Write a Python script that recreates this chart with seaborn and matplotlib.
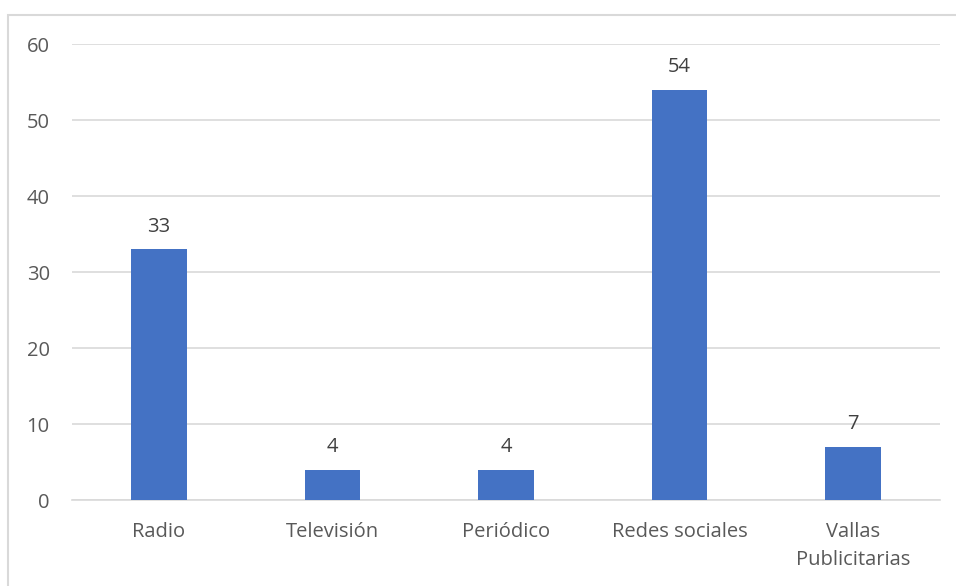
import matplotlib.pyplot as plt
import seaborn as sns
import pandas as pd
from matplotlib.patches import Rectangle

# Data
categorias = ["Radio", "Televisión", "Periódico", "Redes sociales", "Vallas\nPublicitarias"]
valores = [33, 4, 4, 54, 7]

df = pd.DataFrame({"categoria": categorias, "valor": valores})

sns.set_style("white")
plt.rcParams["font.family"] = ["Open Sans", "DejaVu Sans"]

text_color = "#595959"
grid_color = "#D9D9D9"

fig = plt.figure(figsize=(9.56, 5.86), dpi=100)
ax = fig.add_axes([72 / 956, 1 - 500 / 586, (940 - 72) / 956, (500 - 44) / 586])

sns.barplot(data=df, x="categoria", y="valor", color="#4472C4", width=0.32,
            saturation=1, linewidth=0, ax=ax, zorder=3)

ax.set_ylim(0, 60)
ax.set_yticks(range(0, 61, 10))
ax.set_xlim(-0.5, len(categorias) - 0.5)
ax.grid(axis="y", color=grid_color, linewidth=1.2, zorder=0)
ax.set_xlabel("")
ax.set_ylabel("")
for s in ["top", "right", "left"]:
    ax.spines[s].set_visible(False)
ax.spines["bottom"].set_color(grid_color)
ax.spines["bottom"].set_linewidth(1.2)
ax.tick_params(axis="both", length=0, labelsize=14.5, colors=text_color)
ax.tick_params(axis="y", pad=16)
ax.tick_params(axis="x", pad=16)
for lbl in ax.get_xticklabels():
    lbl.set_linespacing(1.5)

# value labels
for i, v in enumerate(valores):
    ax.annotate(str(v), (i, v), xytext=(0, 9), textcoords="offset points",
                ha="center", va="bottom", fontsize=14.5, color="#404040")

# chart border
fig.patches.append(Rectangle((8 / 956, -0.01), 1.0, 1 - 15 / 586 + 0.01,
                             transform=fig.transFigure, fill=False,
                             edgecolor=grid_color, linewidth=1.5))

fig.savefig("out.png", dpi=100)
